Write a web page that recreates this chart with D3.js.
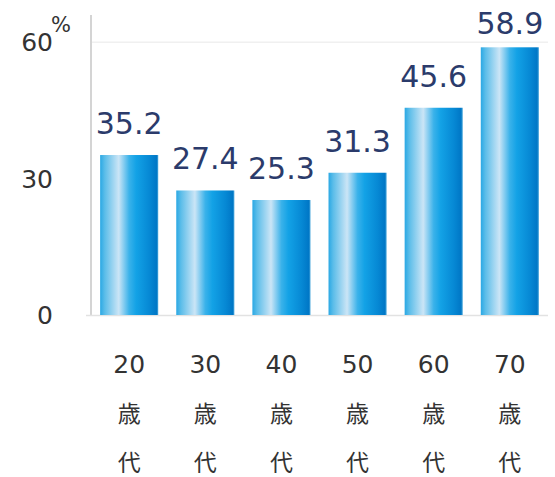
<!DOCTYPE html>
<html><head><meta charset="utf-8">
<script src="https://cdn.jsdelivr.net/npm/d3@7/dist/d3.min.js"></script>
<style>body{margin:0;background:#fff}</style>
</head><body>
<svg id="c" width="555" height="477"></svg>
<script>
const categories = ["20", "30", "40", "50", "60", "70"];
const catSuffix1 = "歳";
const catSuffix2 = "代";
const values = [35.2, 27.4, 25.3, 31.3, 45.6, 58.9];
const yTicks = [0, 30, 60];
const unit = "%";

const svg = d3.select("#c");
const m = {left: 91, right: 17, top: 42, bottom: 162};
const W = 555, H = 477;
const x = d3.scaleBand().domain(categories).range([91, 548]).paddingInner(0.237).paddingOuter(0.12);
const y = d3.scaleLinear().domain([0, 60]).range([315, 42.3]);

const defs = svg.append("defs");
const g = defs.append("linearGradient").attr("id", "bg").attr("x1", "0").attr("x2", "1").attr("y1", "0").attr("y2", "0");
[[0, "#2aa8e4"], [0.08, "#5bbde9"], [0.32, "#cbe5f6"], [0.5, "#3ab2ea"], [0.62, "#13a2e6"], [0.85, "#0688d4"], [0.97, "#0077c6"], [1, "#4aa8dc"]]
  .forEach(([o, c]) => g.append("stop").attr("offset", o).attr("stop-color", c));

// gridline at 60
svg.append("line").attr("x1", 92).attr("x2", 548).attr("y1", y(60)).attr("y2", y(60))
  .attr("stroke", "#f0f0f0").attr("stroke-width", 1.5);

// y axis line
svg.append("line").attr("x1", 91).attr("x2", 91).attr("y1", 15).attr("y2", 316)
  .attr("stroke", "#d4d4d4").attr("stroke-width", 2);
// baseline
svg.append("line").attr("x1", 86).attr("x2", 548).attr("y1", 315.5).attr("y2", 315.5)
  .attr("stroke", "#e2e2e2").attr("stroke-width", 1.5);

// y tick labels
svg.selectAll(".yt").data(yTicks).enter().append("text")
  .attr("x", 53).attr("y", d => y(d) + 9)
  .attr("text-anchor", "end")
  .attr("font-family", "DejaVu Sans, Verdana, sans-serif").attr("font-size", 25)
  .attr("fill", "#333").text(d => d);
svg.append("text").attr("x", 51).attr("y", 32)
  .attr("font-family", "DejaVu Sans, Verdana, sans-serif").attr("font-size", 21)
  .attr("fill", "#333").text(unit);

// bars
svg.selectAll(".bar").data(values).enter().append("rect")
  .attr("x", (d, i) => x(categories[i]))
  .attr("width", x.bandwidth())
  .attr("y", d => y(d))
  .attr("height", d => y(0) - y(d))
  .attr("fill", "url(#bg)");

// value labels
svg.selectAll(".vl").data(values).enter().append("text")
  .attr("x", (d, i) => x(categories[i]) + x.bandwidth() / 2)
  .attr("y", d => Math.max(y(d) - 21, 34))
  .attr("text-anchor", "middle")
  .attr("font-family", "DejaVu Sans, Verdana, sans-serif").attr("font-size", 30)
  .attr("fill", "#2b3b6b").text(d => d.toFixed(1));

// category labels
const cl = svg.selectAll(".cl").data(categories).enter().append("g")
  .attr("transform", d => `translate(${x(d) + x.bandwidth() / 2},0)`);
cl.append("text").attr("y", 373).attr("text-anchor", "middle")
  .attr("font-family", "DejaVu Sans, Verdana, sans-serif").attr("font-size", 25)
  .attr("fill", "#333").text(d => d);
cl.append("text").attr("y", 422).attr("text-anchor", "middle")
  .attr("font-family", "Noto Sans CJK JP, sans-serif").attr("font-size", 23)
  .attr("fill", "#333").text(catSuffix1);
cl.append("text").attr("y", 471).attr("text-anchor", "middle")
  .attr("font-family", "Noto Sans CJK JP, sans-serif").attr("font-size", 23)
  .attr("fill", "#333").text(catSuffix2);
</script>
</body></html>
